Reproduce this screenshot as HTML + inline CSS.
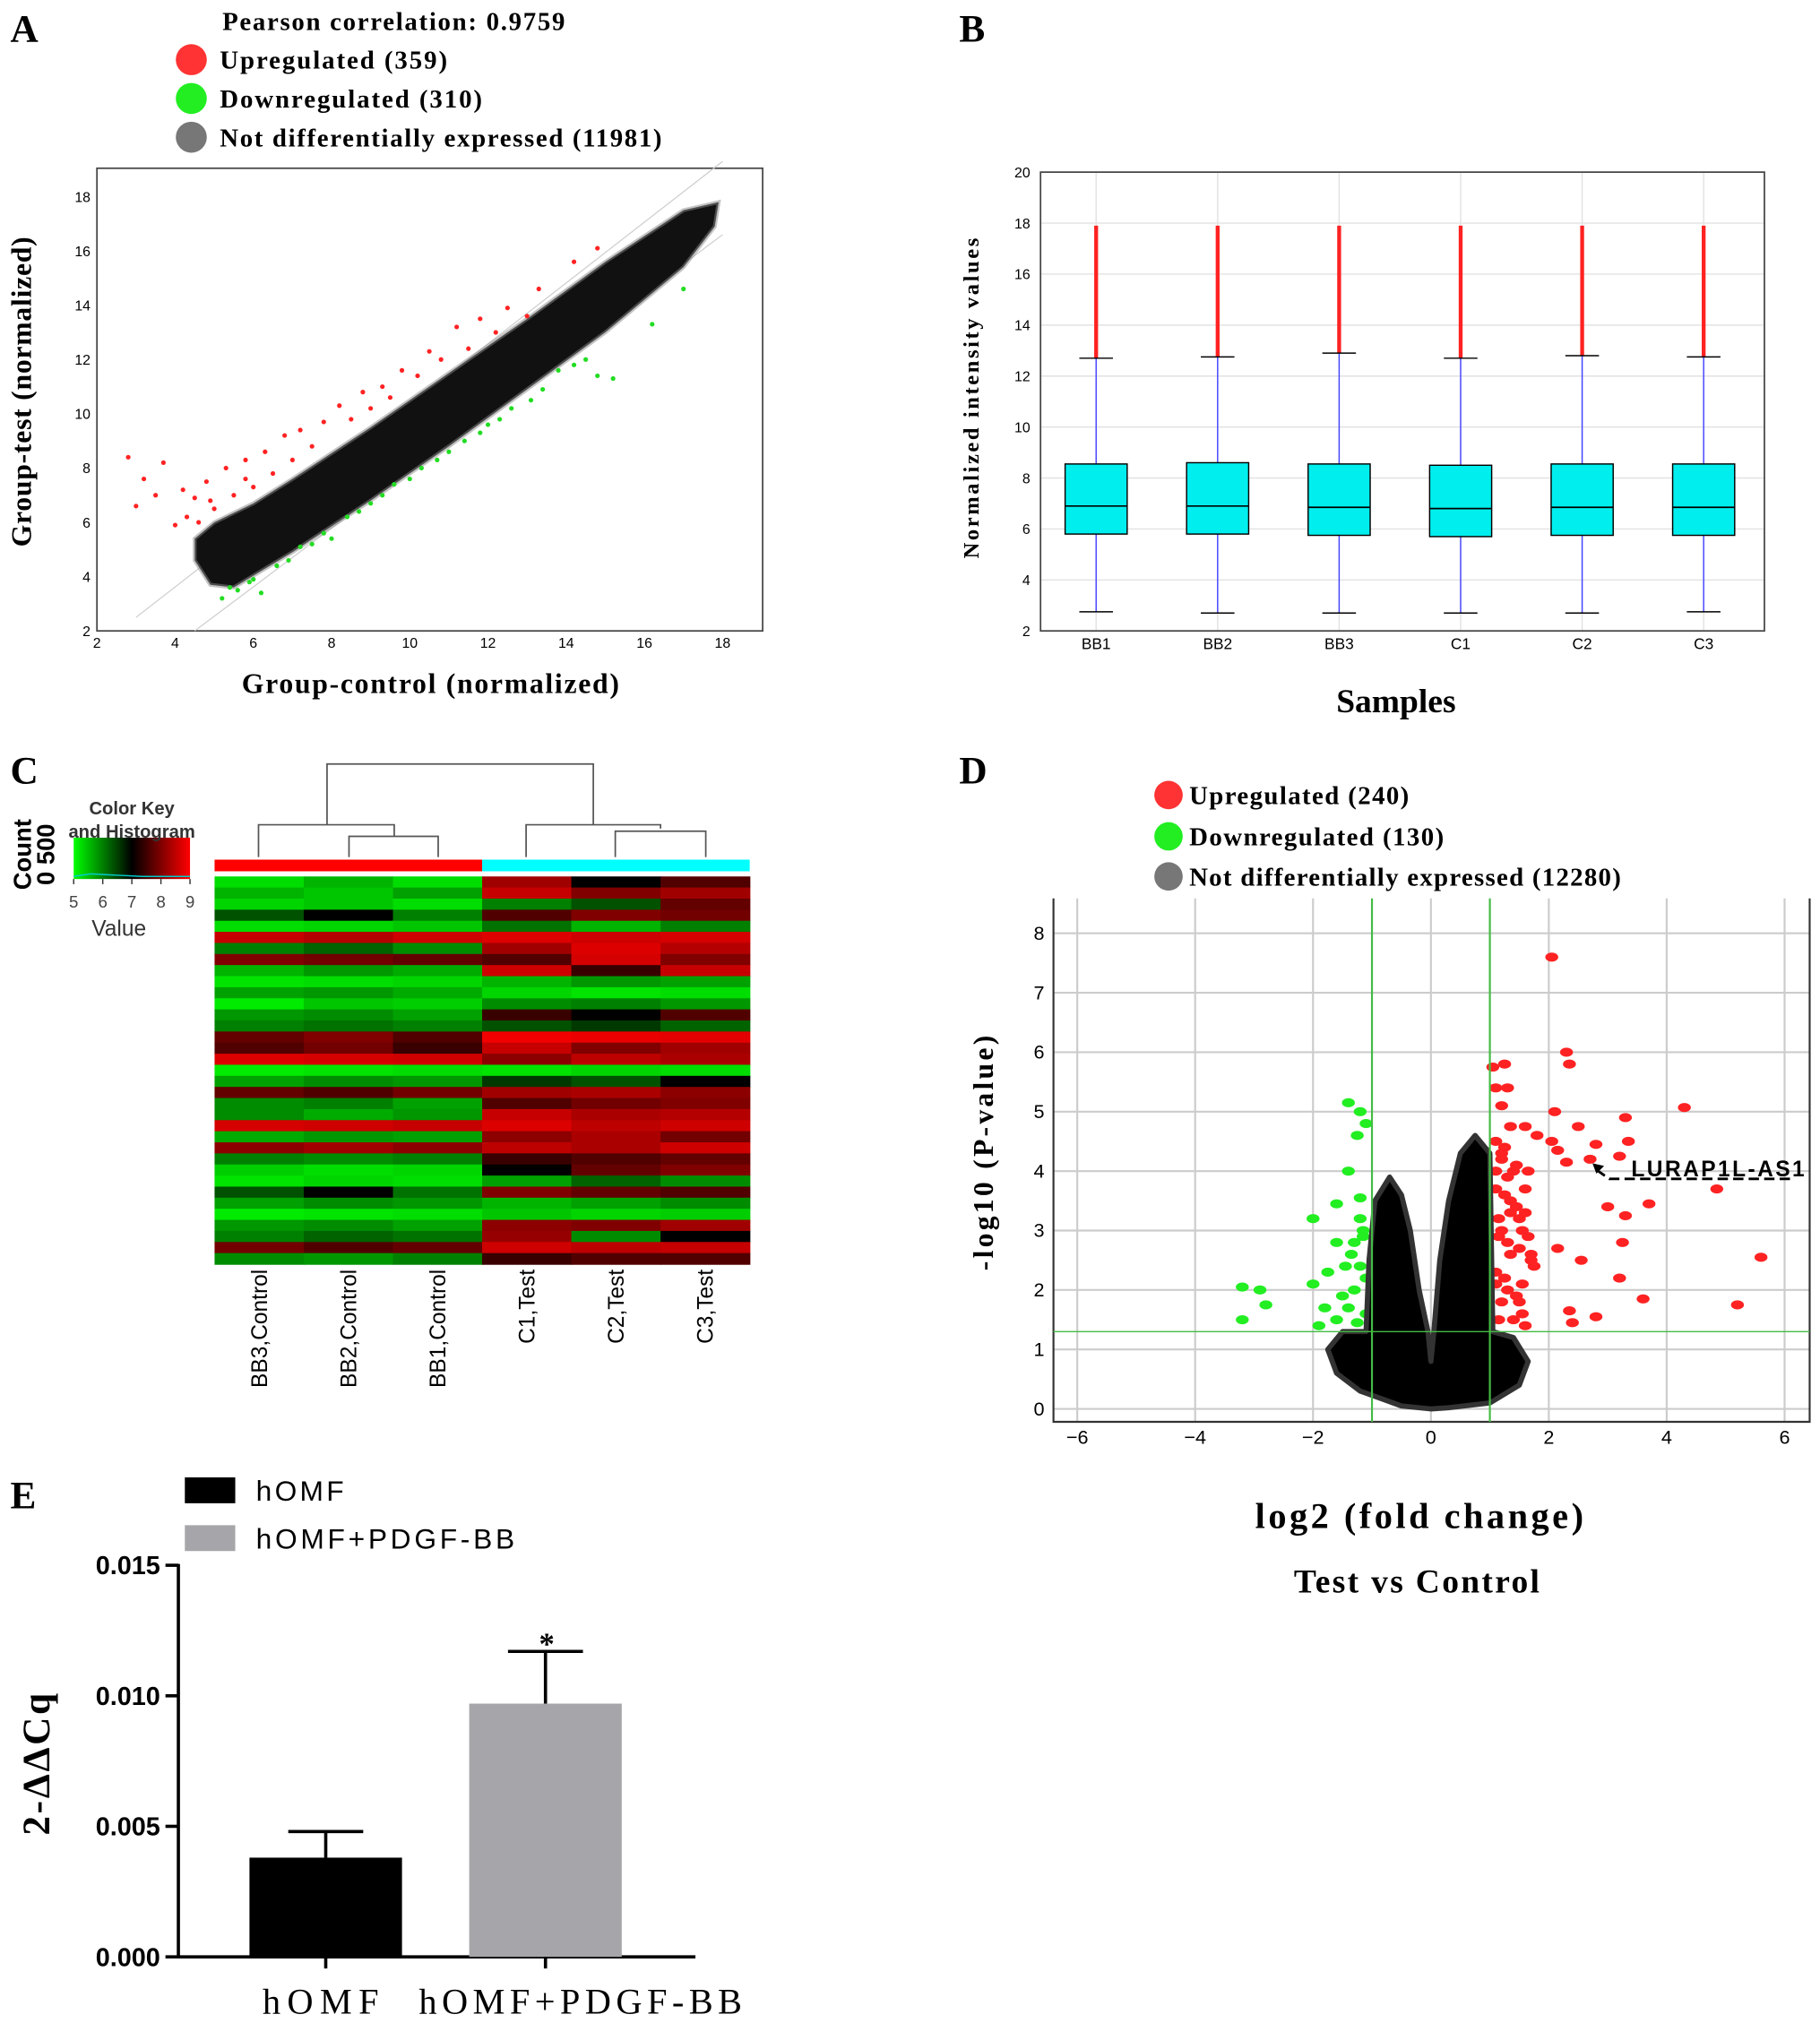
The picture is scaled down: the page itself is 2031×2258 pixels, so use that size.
<!DOCTYPE html>
<html><head><meta charset="utf-8"><style>
html,body{margin:0;padding:0;background:#fff}
svg{display:block}
text{font-family:"Liberation Serif",serif}
.s{font-family:"Liberation Sans",sans-serif}
</style></head><body>
<svg id="fig" width="2031" height="2258" viewBox="0 0 1408 1565" xmlns="http://www.w3.org/2000/svg">
<g id="A"></g>
<g id="B"></g>
<g id="C"></g>
<g id="D"></g>
<g id="E"></g>
</svg>
<script>
const NS="http://www.w3.org/2000/svg";
function mk(p,t,a,txt){const e=document.createElementNS(NS,t);for(const k in a)e.setAttribute(k,a[k]);if(txt!==undefined)e.textContent=txt;p.appendChild(e);return e;}

// ---------- Panel A data ----------
const aTicks=[2,4,6,8,10,12,14,16,18];
const aCloud=[[4.5,4.6],[4.9,3.7],[5.5,3.6],[7,4.9],[9,6.8],[11,8.8],[13,10.9],[15,13],[17,15.4],[17.8,16.9],[17.9,17.8],[17,17.5],[15,15.6],[13,13.5],[11,11.5],[9,9.5],[7,7.6],[6,6.7],[5,6.0],[4.5,5.4]];
const aUpX=[2.8,3.2,3.7,3.0,4.2,4.5,4.8,5.3,5.8,6.3,6.8,7.2,7.8,8.2,8.8,9.3,9.8,10.5,11.2,11.8,12.5,13.3,14.2,14.8,4.0,5.0,6.0,7.5,9.0,10.2,4.3,4.6,5.5,6.5,7.0,8.5,9.5,10.8,11.5,12.2,13.0,3.5,4.9,5.8];
const aUpY=[8.4,7.6,8.2,6.6,7.2,6.9,7.5,8.0,8.3,8.6,9.2,9.4,9.7,10.3,10.8,11.0,11.6,12.3,13.2,13.5,13.9,14.6,15.6,16.1,5.9,6.5,7.3,8.8,10.2,11.4,6.2,6.0,7.0,7.8,8.3,9.8,10.6,12.0,12.4,13.0,13.6,7.0,6.8,7.6];
const aDnX=[5.2,5.6,6.0,6.6,7.2,7.8,8.4,9.0,9.6,10.3,11.0,11.8,12.6,13.4,14.2,14.8,15.2,16.2,17.0,6.2,8.0,10.0,12.0,13.8,5.4,5.9,6.9,7.5,8.7,9.3,10.7,11.4,12.3,13.1,14.5];
const aDnY=[3.2,3.5,3.9,4.4,5.1,5.6,6.2,6.7,7.4,8.0,8.6,9.3,10.2,10.9,11.8,11.4,11.3,13.3,14.6,3.4,5.4,7.6,9.6,11.6,3.6,3.8,4.6,5.2,6.4,7.0,8.3,9.0,9.8,10.5,12.0];

// ---------- Panel B data ----------
const bSamples=["BB1","BB2","BB3","C1","C2","C3"];
const bQ1=[5.8,5.8,5.75,5.7,5.75,5.75];
const bMed=[6.9,6.9,6.85,6.8,6.85,6.85];
const bQ3=[8.55,8.6,8.55,8.5,8.55,8.55];
const bLo=[2.75,2.7,2.7,2.7,2.7,2.75];
const bHi=[12.7,12.75,12.9,12.7,12.8,12.75];
const bMax=[17.9,17.9,17.9,17.9,17.9,17.9];
const bTicks=[2,4,6,8,10,12,14,16,18,20];

// ---------- Panel C data ----------
const cLabels=["BB3,Control","BB2,Control","BB1,Control","C1,Test","C2,Test","C3,Test"];
const cRows=[
[5.5,6,5.5,7.8,7,7.2],[6,5.8,6.2,8.2,7.5,7.8],[5.6,5.8,5.5,6.5,6.8,7.3],[6.8,7,6.5,7.2,7.5,7.4],[5.5,5.6,5.8,6.6,6,6.5],
[8.2,8,8.3,8.5,8.3,8.4],[6.5,6.7,6.4,7.8,8.5,8],[7.5,7.4,7.3,7.2,8.4,7.5],[6,6.3,6.1,8.3,7.1,8.2],[5.4,5.5,5.6,6,6.3,6.2],
[6.2,6.3,6.1,5.6,5.4,5.5],[5.3,5.8,5.7,6.4,6.5,6.3],[6.3,6.4,6.2,7.1,7,7.2],[6.5,6.6,6.5,6.8,6.9,6.7],[7.3,7.5,7.2,8.8,8.7,8.6],
[7.2,7.4,7.1,8.2,7.5,7.8],[8.5,8.4,8.3,7.6,8.1,7.9],[5.3,5.4,5.5,5.4,5.6,5.5],[6.2,6.4,6.3,6.9,6.8,7],[7.3,7.2,7.4,7.8,7.9,7.6],
[6.4,6.5,6.2,7.2,7.4,7.5],[6.4,6.1,6.3,8.2,7.9,8],[8.4,8.3,8.2,8.5,8.1,8.3],[6.1,6.3,6.2,7.6,7.9,7.4],[7.6,7.8,7.6,8.1,7.9,8.3],
[6.5,6.4,6.5,7.1,7.2,7.3],[5.7,5.5,5.6,7,7.3,7.5],[5.4,5.6,5.5,6.2,6.7,6.4],[6.8,7,6.6,7.5,7.3,7.2],[6.2,6.4,6.3,6,6.2,6.4],
[5.3,5.4,5.5,5.8,5.6,5.7],[6.3,6.4,6.2,7.6,7.5,7.8],[6.5,6.7,6.6,7.7,6.4,7],[7.4,7.2,7.3,8.3,8.1,8.2],[6.4,6.3,6.5,7.1,7.2,7.2]
];
const cKeyTicks=[5,6,7,8,9];

// ---------- Panel D data ----------
const dXTicks=[-6,-4,-2,0,2,4,6];
const dYTicks=[0,1,2,3,4,5,6,7,8];
const dCloudX=[0,-0.5,-1.2,-1.6,-1.75,-1.5,-1.1,-1.05,-0.95,-0.7,-0.5,-0.35,-0.2,-0.05,0,0.05,0.15,0.3,0.5,0.75,1.0,1.05,1.4,1.65,1.5,1.0,0.3];
const dCloudY=[0,0.05,0.3,0.6,1.0,1.3,1.3,2.5,3.5,3.9,3.6,3.0,2.0,1.3,0.8,1.3,2.5,3.5,4.3,4.6,4.3,1.3,1.2,0.8,0.4,0.1,0.02];
const dUpX=[2.05,2.3,2.35,1.05,1.25,1.1,1.3,1.2,1.35,1.6,1.8,2.1,2.5,2.8,3.3,4.3,2.05,2.15,2.3,2.7,3.2,4.85,3.0,3.3,3.7,3.35,3.25,2.15,2.55,5.6,3.2,3.6,5.2,2.35,2.4,2.8,1.2,1.4,1.6,1.5,1.3,1.7,1.25,1.45,1.55,1.35,1.2,1.65,1.75,1.15,1.1,1.2,1.3,1.45,1.6,1.1,1.25,1.5,1.7,1.15,1.35,1.55,1.1,1.3,1.5,1.2,1.4,1.6,1.1,1.25,1.45,1.65,1.15,1.35,1.55,1.1];
const dUpY=[7.6,6.0,5.8,5.75,5.8,5.4,5.4,5.1,4.75,4.75,4.6,5.0,4.75,4.45,4.9,5.07,4.5,4.35,4.15,4.2,4.25,3.7,3.4,3.25,3.45,4.5,2.8,2.7,2.5,2.55,2.2,1.85,1.75,1.65,1.45,1.55,4.2,4.0,3.7,3.2,2.8,2.5,2.2,1.9,1.6,3.5,3.0,2.9,2.4,1.5,4.5,4.3,3.9,3.4,3.3,3.7,3.6,2.7,2.6,2.9,2.6,2.1,2.3,2.0,1.8,1.8,1.5,1.4,4.0,4.4,4.1,4.0,3.2,3.3,3.0,2.1];
const dDnX=[-1.4,-1.2,-1.1,-1.25,-1.4,-1.2,-1.6,-2.0,-1.6,-1.3,-1.45,-1.75,-2.0,-1.8,-3.2,-2.9,-2.8,-3.2,-1.6,-1.9,-1.2,-1.35,-1.1,-1.5,-1.25,-1.15,-1.3,-1.1,-1.2,-1.4,-1.15];
const dDnY=[5.15,5.0,4.8,4.6,4.0,3.55,3.45,3.2,2.8,2.8,2.4,2.3,2.1,1.7,2.05,2.0,1.75,1.5,1.5,1.4,3.2,2.6,2.2,1.9,1.45,2.9,2.0,1.6,2.4,1.7,3.0];

// ---------- Panel E data ----------
const eCats=["hOMF","hOMF+PDGF-BB"];
const eVals=[0.0038,0.0097];
const eErr=[0.001,0.002];
const eTicks=[0,0.005,0.010,0.015];
const eTickLabels=["0.000","0.005","0.010","0.015"];

// ===== Panel A =====
(function(){
const g=document.getElementById('A');
const X=v=>75+(v-2)*30.25, Y=v=>488-(v-2)*21;
let t=mk(g,'text',{x:8,y:32,'font-size':30,'font-weight':'bold'},'A');
const leg=[["Pearson correlation:  0.9759",null,17,265],["Upregulated  (359)","#f33",47,176],["Downregulated  (310)","#2e2",77,203],["Not differentially expressed  (11981)","#777",107,342]];
leg.forEach((l,i)=>{const e=mk(g,'g',{});
 if(l[1])mk(e,'circle',{cx:148,cy:l[2]-1,r:12,fill:l[1]});
 mk(e,'text',{x:i==0?172:170,y:l[2]+6,'font-size':20,'font-weight':'bold',textLength:l[3],lengthAdjust:'spacing'},l[0]);});
const ax=mk(g,'rect',{x:75,y:130,width:515,height:358,fill:'none',stroke:'#444','stroke-width':1.2});
mk(g,'line',{x1:X(3),y1:Y(2.5),x2:X(18),y2:Y(19.3),stroke:'#ccc','stroke-width':0.8});
mk(g,'line',{x1:X(4.5),y1:Y(2),x2:X(18),y2:Y(16.6),stroke:'#ccc','stroke-width':0.8});
aTicks.forEach(v=>{let a=mk(g,'text',{x:X(v),y:501,'font-size':11,'text-anchor':'middle',class:'s'},v);
 let b=mk(g,'text',{x:70,y:Y(v)+4,'font-size':11,'text-anchor':'end',class:'s'},v);});
const cl=mk(g,'polygon',{points:aCloud.map(p=>X(p[0])+','+Y(p[1])).join(' '),fill:'#111',stroke:'#888','stroke-width':3,'stroke-opacity':0.5});
aUpX.forEach((v,i)=>{const c=mk(g,'circle',{cx:X(v),cy:Y(aUpY[i]),r:1.8,fill:'#f22'});});
aDnX.forEach((v,i)=>{const c=mk(g,'circle',{cx:X(v),cy:Y(aDnY[i]),r:1.8,fill:'#2d2'});});
t=mk(g,'text',{x:333,y:536,'font-size':22,'font-weight':'bold','text-anchor':'middle',textLength:292,lengthAdjust:'spacing'},'Group-control (normalized)');
t=mk(g,'text',{x:0,y:0,'font-size':22,'font-weight':'bold','text-anchor':'middle',transform:'translate(24,303) rotate(-90)',textLength:240,lengthAdjust:'spacing'},'Group-test (normalized)');
})();

// ===== Panel B =====
(function(){
const g=document.getElementById('B');
const Y=v=>488-(v-2)*19.72;
const xs=[848,942,1036,1130,1224,1318];
let t=mk(g,'text',{x:742,y:32,'font-size':30,'font-weight':'bold'},'B');
bTicks.forEach(v=>{mk(g,'line',{x1:805,x2:1365,y1:Y(v),y2:Y(v),stroke:'#e2e2e2'});
 let a=mk(g,'text',{x:797,y:Y(v)+4,'font-size':11,'text-anchor':'end',class:'s'},v);});
xs.forEach(x=>mk(g,'line',{x1:x,x2:x,y1:133,y2:488,stroke:'#e2e2e2'}));
mk(g,'rect',{x:805,y:133,width:560,height:355,fill:'none',stroke:'#444','stroke-width':1.2});
bSamples.forEach((s,i)=>{const x=xs[i];const e=mk(g,'g',{});
 mk(e,'line',{x1:x,x2:x,y1:Y(bMax[i]),y2:Y(bHi[i]),stroke:'#f22','stroke-width':3});
 mk(e,'line',{x1:x,x2:x,y1:Y(bHi[i]),y2:Y(bLo[i]),stroke:'#44f','stroke-width':1});
 mk(e,'line',{x1:x-13,x2:x+13,y1:Y(bHi[i]),y2:Y(bHi[i]),stroke:'#000'});
 mk(e,'line',{x1:x-13,x2:x+13,y1:Y(bLo[i]),y2:Y(bLo[i]),stroke:'#000'});
 mk(e,'rect',{x:x-24,y:Y(bQ3[i]),width:48,height:Y(bQ1[i])-Y(bQ3[i]),fill:'#0ee',stroke:'#000'});
 mk(e,'line',{x1:x-24,x2:x+24,y1:Y(bMed[i]),y2:Y(bMed[i]),stroke:'#000','stroke-width':1.2});
 let a=mk(g,'text',{x:x,y:502,'font-size':12,'text-anchor':'middle',class:'s'},s);});
t=mk(g,'text',{x:1080,y:551,'font-size':26,'font-weight':'bold','text-anchor':'middle'},'Samples');
t=mk(g,'text',{x:0,y:0,'font-size':17,'font-weight':'bold','text-anchor':'middle',transform:'translate(757,308) rotate(-90)',textLength:248,lengthAdjust:'spacing'},'Normalized intensity values');
})();

// ===== Panel C =====
(function(){
const g=document.getElementById('C');
let t=mk(g,'text',{x:8,y:606,'font-size':30,'font-weight':'bold'},'C');
function col(v){const f=Math.max(0,Math.min(1,(v-5)/4));
 if(f<0.5){const k=1-f/0.5;return `rgb(0,${Math.round(255*Math.sqrt(k))},0)`;} const k=(f-0.5)/0.5;return `rgb(${Math.round(255*Math.sqrt(k))},0,0)`;}
const kg=mk(g,'g',{});
const gr=mk(kg,'linearGradient',{id:'ck'});[['0','#0f0'],['0.5','#000'],['1','#f00']].forEach(s=>mk(gr,'stop',{offset:s[0],'stop-color':s[1]}));
mk(kg,'rect',{x:57,y:648,width:90,height:32,fill:'url(#ck)'});
mk(kg,'polyline',{points:'57,678 70,676 90,677 110,678 147,678',fill:'none',stroke:'#0cc','stroke-width':1});
cKeyTicks.forEach(v=>{const x=57+(v-5)*22.5;mk(kg,'line',{x1:x,x2:x,y1:680,y2:684,stroke:'#333'});mk(kg,'text',{x:x,y:702,'font-size':13,'text-anchor':'middle',class:'s',fill:'#444'},v);});
mk(kg,'text',{x:102,y:630,'font-size':14,'font-weight':'bold','text-anchor':'middle',class:'s',fill:'#333'},'Color Key');
mk(kg,'text',{x:102,y:648,'font-size':14,'font-weight':'bold','text-anchor':'middle',class:'s',fill:'#333'},'and Histogram');
mk(kg,'text',{x:92,y:724,'font-size':17,'text-anchor':'middle',class:'s',fill:'#333'},'Value');
mk(kg,'text',{x:0,y:0,'font-size':19,'font-weight':'bold','text-anchor':'middle',class:'s',transform:'translate(24,661) rotate(-90)'},'Count');
mk(kg,'text',{x:0,y:0,'font-size':19,'font-weight':'bold','text-anchor':'middle',class:'s',transform:'translate(42,661) rotate(-90)'},'0 500');
const dg=mk(g,'g',{stroke:'#555','stroke-width':1.2,fill:'none'});
[[200,663,200,638,305,638,305,647],[270,663,270,647,339,647,339,663],[253,638,253,591,459,591,459,638],[407,663,407,638,511,638,511,641],[476,663,476,643,546,643,546,663]].forEach(p=>mk(dg,'polyline',{points:`${p[0]},${p[1]} ${p[2]},${p[3]} ${p[4]},${p[5]} ${p[6]},${p[7]}`}));
let r=mk(g,'rect',{x:166,y:665,width:207,height:9,fill:'#f00'});
r=mk(g,'rect',{x:373,y:665,width:207,height:9,fill:'#0ff'});
const x0=166,w=414/6,y0=678,h=300/cRows.length;
cRows.forEach((row,ri)=>row.forEach((v,ci)=>{const c=mk(g,'rect',{x:x0+ci*w,y:y0+ri*h,width:w+0.5,height:h+0.5,fill:col(v)});}));
cLabels.forEach((l,i)=>{const x=x0+(i+0.5)*w+6;const a=mk(g,'text',{x:0,y:0,'font-size':17,'text-anchor':'end',class:'s',transform:`translate(${x},982) rotate(-90)`},l);});
})();

// ===== Panel D =====
(function(){
const g=document.getElementById('D');
const X=v=>1107+v*45.6, Y=v=>1090-v*46;
let t=mk(g,'text',{x:742,y:606,'font-size':30,'font-weight':'bold'},'D');
[["Upregulated (240)","#f33",616,170],["Downregulated (130)","#2e2",648,197],["Not differentially expressed (12280)","#777",679,334]].forEach(l=>{const e=mk(g,'g',{});
 mk(e,'circle',{cx:904,cy:l[2]-1,r:11,fill:l[1]});mk(e,'text',{x:920,y:l[2]+6,'font-size':20,'font-weight':'bold',textLength:l[3],lengthAdjust:'spacing'},l[0]);});
dXTicks.forEach(v=>{mk(g,'line',{x1:X(v),x2:X(v),y1:695,y2:1100,stroke:'#ccc','stroke-width':1.5});
 let a=mk(g,'text',{x:X(v),y:1117,'font-size':15,'text-anchor':'middle',class:'s'},v<0?'\u2212'+(-v):v);});
dYTicks.forEach(v=>{mk(g,'line',{x1:815,x2:1400,y1:Y(v),y2:Y(v),stroke:'#ccc','stroke-width':1.5});
 let a=mk(g,'text',{x:808,y:Y(v)+5,'font-size':15,'text-anchor':'end',class:'s'},v);});
mk(g,'polyline',{points:'815,695 815,1100 1400,1100 1400,695',fill:'none',stroke:'#333','stroke-width':1.5});
dUpX.forEach((v,i)=>{const c=mk(g,'ellipse',{cx:X(v),cy:Y(dUpY[i]),rx:5,ry:3.5,fill:'#f22'});});
dDnX.forEach((v,i)=>{const c=mk(g,'ellipse',{cx:X(v),cy:Y(dDnY[i]),rx:5,ry:3.5,fill:'#2e2'});});
const cl=mk(g,'polygon',{points:dCloudX.map((v,i)=>X(v)+','+Y(dCloudY[i])).join(' '),fill:'#000',stroke:'#333','stroke-width':4,'stroke-linejoin':'round'});
[-1,1].forEach(v=>mk(g,'line',{x1:X(v),x2:X(v),y1:695,y2:1100,stroke:'#4b4','stroke-width':1.5}));
mk(g,'line',{x1:815,x2:1400,y1:Y(1.3),y2:Y(1.3),stroke:'#4b4','stroke-width':1});
mk(g,'path',{d:'M1235,905 L1245,912 L1385,912',fill:'none',stroke:'#000','stroke-width':2,'stroke-dasharray':'8,4'});
mk(g,'path',{d:'M1232,900 l9,2 l-6,6 z',fill:'#000'});
t=mk(g,'text',{x:1262,y:910,'font-size':17,'font-weight':'bold',class:'s',textLength:134,lengthAdjust:'spacing'},'LURAP1L-AS1');
t=mk(g,'text',{x:1098,y:1182,'font-size':28,'font-weight':'bold','text-anchor':'middle',textLength:254,lengthAdjust:'spacing'},'log2 (fold change)');
t=mk(g,'text',{x:1096,y:1232,'font-size':26,'font-weight':'bold','text-anchor':'middle',textLength:190,lengthAdjust:'spacing'},'Test vs Control');
t=mk(g,'text',{x:0,y:0,'font-size':22,'font-weight':'bold','text-anchor':'middle',transform:'translate(768,892) rotate(-90)',textLength:182,lengthAdjust:'spacing'},'-log10 (P-value)');
})();

// ===== Panel E =====
(function(){
const g=document.getElementById('E');
const Y=v=>1514-v*20200;
const xs=[252,422];
let t=mk(g,'text',{x:8,y:1167,'font-size':30,'font-weight':'bold'},'E');
[["hOMF","#000",1153,68],["hOMF+PDGF-BB","#a6a6aa",1190,200]].forEach(l=>{const e=mk(g,'g',{});
 mk(e,'rect',{x:143,y:l[2]-10,width:39,height:20,fill:l[1]});mk(e,'text',{x:198,y:l[2]+8,'font-size':22,class:'s',textLength:l[3],lengthAdjust:'spacing'},l[0]);});
mk(g,'line',{x1:138,x2:138,y1:1210,y2:1515,stroke:'#000','stroke-width':2.5});
mk(g,'line',{x1:137,x2:538,y1:1514,y2:1514,stroke:'#000','stroke-width':2.5});
eTicks.forEach((v,i)=>{mk(g,'line',{x1:128,x2:138,y1:Y(v),y2:Y(v),stroke:'#000','stroke-width':2.5});
 let a=mk(g,'text',{x:124,y:Y(v)+7,'font-size':20,'font-weight':'bold','text-anchor':'end',class:'s'},eTickLabels[i]);});
eCats.forEach((c,i)=>{const x=xs[i];const e=mk(g,'g',{});
 mk(e,'line',{x1:x,x2:x,y1:Y(eVals[i]),y2:Y(eVals[i]+eErr[i]),stroke:'#000','stroke-width':2.5});
 mk(e,'line',{x1:x-29,x2:x+29,y1:Y(eVals[i]+eErr[i]),y2:Y(eVals[i]+eErr[i]),stroke:'#000','stroke-width':2.5});
 mk(e,'rect',{x:x-59,y:Y(eVals[i]),width:118,height:1514-Y(eVals[i]),fill:i?'#a6a6aa':'#000'});
 mk(e,'line',{x1:x,x2:x,y1:1514,y2:1523,stroke:'#000','stroke-width':2.5});
 let a=mk(g,'text',{x:i?449:248,y:1558,'font-size':28,'text-anchor':'middle',textLength:i?250:90,lengthAdjust:'spacing'},c);});
t=mk(g,'text',{x:423,y:1280,'font-size':24,'font-weight':'bold','text-anchor':'middle'},'*');
t=mk(g,'text',{x:0,y:0,'font-size':30,'font-weight':'bold','text-anchor':'middle',transform:'translate(38,1365) rotate(-90)',textLength:110,lengthAdjust:'spacing'},'2-\u0394\u0394Cq');
})();
</script>
</body></html>
